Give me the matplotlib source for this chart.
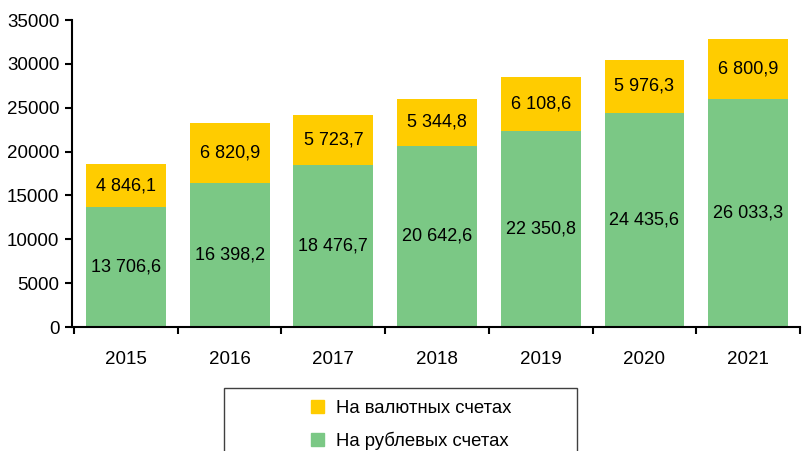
import matplotlib
matplotlib.use("Agg")
import matplotlib.pyplot as plt
from matplotlib.patches import Rectangle, Patch

plt.rcParams['font.family'] = ['Liberation Sans', 'DejaVu Sans']

years = ['2015', '2016', '2017', '2018', '2019', '2020', '2021']
rub = [13706.6, 16398.2, 18476.7, 20642.6, 22350.8, 24435.6, 26033.3]
fx = [4846.1, 6820.9, 5723.7, 5344.8, 6108.6, 5976.3, 6800.9]

green = '#7bc885'
yellow = '#ffcc00'


def fmt(v):
    s = f"{v:,.1f}"
    return s.replace(',', ' ').replace('.', ',')


fig = plt.figure(figsize=(8.03, 4.51), dpi=100)
ax = fig.add_axes([72 / 803, 124 / 451, 728 / 803, 307 / 451])

x = range(len(years))
ax.bar(x, rub, width=0.77, color=green, edgecolor='none')
ax.bar(x, fx, width=0.77, bottom=rub, color=yellow, edgecolor='none')

for i in x:
    ax.text(i, rub[i] / 2, fmt(rub[i]), ha='center', va='center', fontsize=13)
    ax.text(i, rub[i] + fx[i] / 2, fmt(fx[i]), ha='center', va='center', fontsize=13)

ax.set_xlim(-0.52, 6.48)
ax.set_ylim(0, 35000)
ax.set_yticks(range(0, 35001, 5000))
ax.set_xticks(list(x))
ax.set_xticklabels(years)
ax.set_xticks([i + 0.5 for i in range(-1, 7)], minor=True)
ax.tick_params(axis='x', which='major', length=0, labelsize=13.5, pad=17)
ax.tick_params(axis='x', which='minor', length=5, width=1.5, direction='out')
ax.tick_params(axis='y', length=5, width=1.5, labelsize=13.5, direction='out', pad=4)
for s in ['top', 'right']:
    ax.spines[s].set_visible(False)
for s in ['left', 'bottom']:
    ax.spines[s].set_linewidth(1.5)

# legend box (bottom edge runs off the canvas)
fig.patches.append(Rectangle((224 / 803, -0.1), 353 / 803, (451 - 388) / 451 + 0.1,
                             transform=fig.transFigure, facecolor='white',
                             edgecolor='#404040', linewidth=1))
handles = [Patch(color=yellow, label='На валютных счетах'),
           Patch(color=green, label='На рублевых счетах')]
fig.legend(handles=handles, loc='upper left', bbox_to_anchor=(294 / 803, 1 - 383 / 451),
           frameon=False, fontsize=13.3, handlelength=0.75, handleheight=0.75,
           handletextpad=0.6, labelspacing=0.8)

fig.savefig('out.png', dpi=100)
